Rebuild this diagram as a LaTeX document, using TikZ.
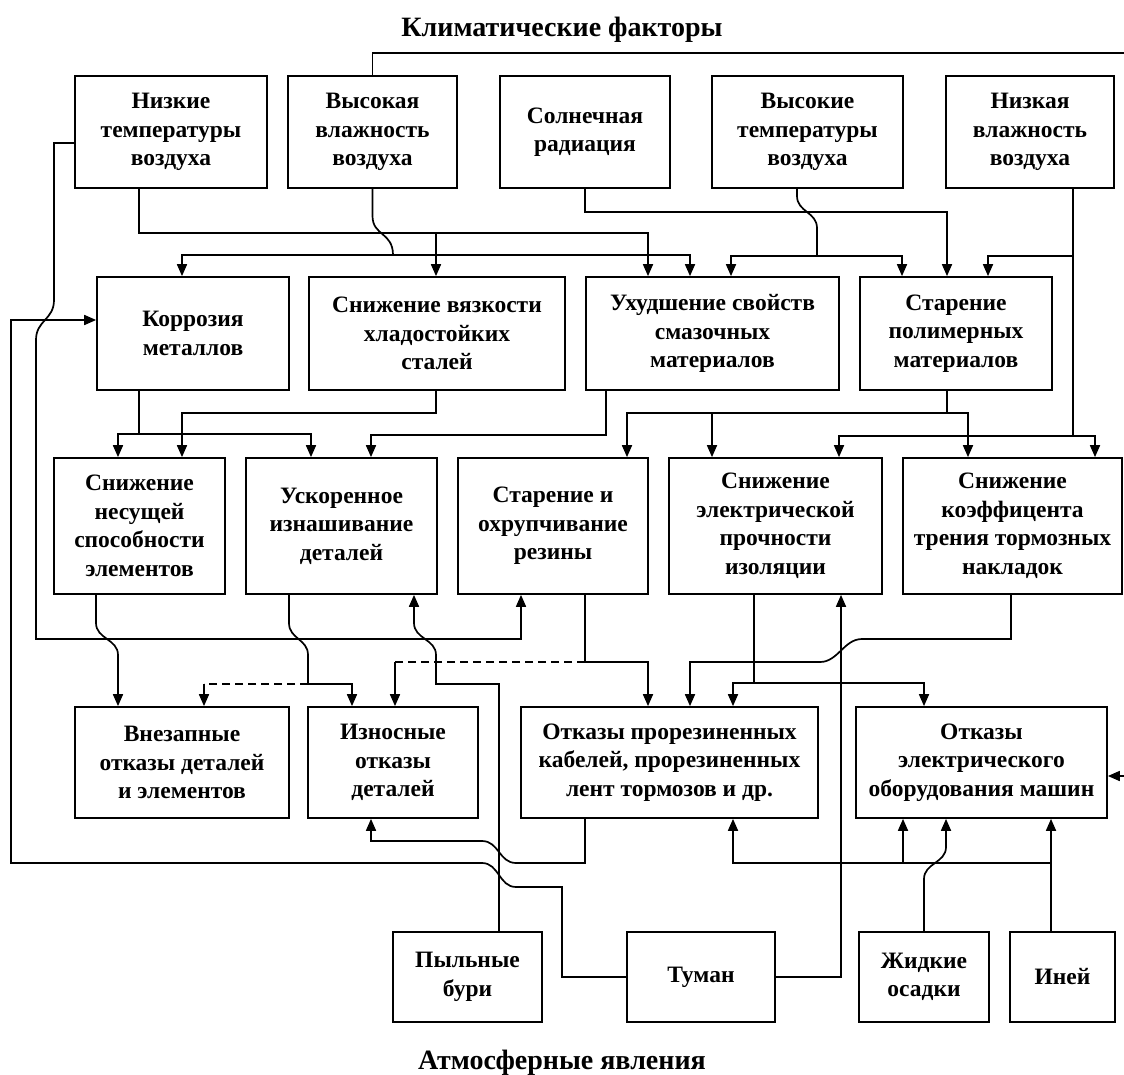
\documentclass[tikz,border=0pt]{standalone}
\usepackage{fontspec}
\setmainfont{Liberation Serif}
\usetikzlibrary{arrows.meta}
\begin{document}
\begin{tikzpicture}[x=1pt,y=-1pt,
  box/.style={draw,line width=1.7pt,inner sep=0pt,align=center,
    font=\fontsize{23.5}{28.5}\selectfont\bfseries},
  ttl/.style={inner sep=0pt,font=\fontsize{28}{30}\selectfont\bfseries},
  ln/.style={line width=1.7pt},
  arr/.style={line width=1.7pt,-{Triangle[length=12pt,width=10pt]}},
  dsh/.style={line width=1.7pt,dash pattern=on 8pt off 5pt}]
\fill[white] (0,0) rectangle (1124,1075);
\useasboundingbox (0,0) rectangle (1124,1075);

% titles
\node[ttl] (T1) at (562,30) {Климатические факторы};
\node[ttl] (T2) at (562,1063) {Атмосферные явления};

% row 1
\node[box,minimum width=192pt,minimum height=112pt] (A1) at (171,132) {Низкие\\температуры\\воздуха};
\node[box,minimum width=169pt,minimum height=112pt] (A2) at (372.5,132) {Высокая\\влажность\\воздуха};
\node[box,minimum width=170pt,minimum height=112pt] (A3) at (585,132) {Солнечная\\радиация};
\node[box,minimum width=191pt,minimum height=112pt] (A4) at (807.5,132) {Высокие\\температуры\\воздуха};
\node[box,minimum width=168pt,minimum height=112pt] (A5) at (1030,132) {Низкая\\влажность\\воздуха};

% row 2
\node[box,minimum width=192pt,minimum height=113pt] (B1) at (193,333.5) {Коррозия\\металлов};
\node[box,minimum width=256pt,minimum height=113pt] (B2) at (437,333.5) {Снижение вязкости\\хладостойких\\сталей};
\node[box,minimum width=253pt,minimum height=113pt] (B3) at (712.5,333.5) {Ухудшение свойств\\смазочных\\материалов};
\node[box,minimum width=192pt,minimum height=113pt] (B4) at (956,333.5) {Старение\\полимерных\\материалов};

% row 3
\node[box,minimum width=171pt,minimum height=136pt] (C1) at (139.5,526) {Снижение\\несущей\\способности\\элементов};
\node[box,minimum width=191pt,minimum height=136pt] (C2) at (341.5,526) {Ускоренное\\изнашивание\\деталей};
\node[box,minimum width=190pt,minimum height=136pt] (C3) at (553,526) {Старение и\\охрупчивание\\резины};
\node[box,minimum width=213pt,minimum height=136pt] (C4) at (775.5,526) {Снижение\\электрической\\прочности\\изоляции};
\node[box,minimum width=219pt,minimum height=136pt] (C5) at (1012.5,526) {Снижение\\коэффицента\\трения тормозных\\накладок};

% row 4
\node[box,minimum width=214pt,minimum height=111pt] (D1) at (182,762.5) {Внезапные\\отказы деталей\\и элементов};
\node[box,minimum width=170pt,minimum height=111pt] (D2) at (393,762.5) {Износные\\отказы\\деталей};
\node[box,minimum width=297pt,minimum height=111pt] (D3) at (669.5,762.5) {Отказы прорезиненных\\кабелей, прорезиненных\\лент тормозов и др.};
\node[box,minimum width=251pt,minimum height=111pt] (D4) at (981.5,762.5) {Отказы\\электрического\\оборудования машин};

% row 5
\node[box,minimum width=149pt,minimum height=90pt] (E1) at (467.5,977) {Пыльные\\бури};
\node[box,minimum width=148pt,minimum height=90pt] (E2) at (701,977) {Туман};
\node[box,minimum width=130pt,minimum height=90pt] (E3) at (924,977) {Жидкие\\осадки};
\node[box,minimum width=105pt,minimum height=90pt] (E4) at (1062.5,977) {Иней};

% free ends at the right edge
\coordinate (TR) at (1124,53);
\coordinate (RR) at (1124,776);

% A2 top line to the right edge, and arrow into D4 from the right edge
\draw[ln] (A2.north) -- (A2.north |- TR) -- (TR);
\draw[arr] (RR) -- (RR -| D4.east);

% A1 left: to rubber ageing
\draw[arr] (A1.west |- 0,143) -- (54,143) -- (54,300) .. controls (54,320) and (36,320) .. (36,340)
  -- (36,639) -- (521,639) -- (521,0 |- C3.south);
% A1 bottom
\draw[arr] (139,0 |- A1.south) -- (139,233) -- (648,233) -- (648,0 |- B3.north);
\draw[arr] (436,233) -- (436,0 |- B2.north);
% A2 bottom
\draw[arr] (A2.south) -- (372.5,216) .. controls (372.5,236) and (393,232) .. (393,255) -- (690,255) -- (690,0 |- B3.north);
\draw[arr] (393,255) -- (182,255) -- (182,0 |- B1.north);
% A3
\draw[arr] (A3.south) -- (585,212) -- (947,212) -- (947,0 |- B4.north);
% A4
\draw[arr] (797,0 |- A4.south) -- (797,196) .. controls (797,212) and (817,212) .. (817,228) -- (817,256) -- (902,256) -- (902,0 |- B4.north);
\draw[arr] (817,256) -- (731,256) -- (731,0 |- B3.north);
% A5
\draw[arr] (1073,0 |- A5.south) -- (1073,436) -- (1095,436) -- (1095,0 |- C5.north);
\draw[arr] (1073,436) -- (839,436) -- (839,0 |- C4.north);
\draw[arr] (1073,256) -- (988,256) -- (988,0 |- B4.north);

% B1
\draw[arr] (139,0 |- B1.south) -- (139,434) -- (118,434) -- (118,0 |- C1.north);
\draw[arr] (139,434) -- (311,434) -- (311,0 |- C2.north);
% B2
\draw[arr] (436,0 |- B2.south) -- (436,413) -- (182,413) -- (182,0 |- C1.north);
% B3
\draw[arr] (606,0 |- B3.south) -- (606,435) -- (371,435) -- (371,0 |- C2.north);
% B4
\draw[arr] (947,0 |- B4.south) -- (947,413) -- (627,413) -- (627,0 |- C3.north);
\draw[arr] (712,413) -- (712,0 |- C4.north);
\draw[arr] (947,413) -- (968,413) -- (968,0 |- C5.north);

% C1
\draw[arr] (96,0 |- C1.south) -- (96,623) .. controls (96,639) and (118,639) .. (118,655) -- (118,0 |- D1.north);
% C2
\draw[arr] (289,0 |- C2.south) -- (289,623) .. controls (289,639) and (308,639) .. (308,655) -- (308,684) -- (352,684) -- (352,0 |- D2.north);
\draw[dsh] (308,684) -- (204,684);
\draw[arr] (204,684) -- (204,0 |- D1.north);
% E1 (dust storms) to C2
\draw[arr] (499,0 |- E1.north) -- (499,684) -- (436,684) -- (436,655) .. controls (436,639) and (414,639) .. (414,623) -- (414,0 |- C2.south);
% C3
\draw[arr] (585,0 |- C3.south) -- (585,662) -- (648,662) -- (648,0 |- D3.north);
\draw[dsh] (585,662) -- (395,662);
\draw[arr] (395,662) -- (395,0 |- D2.north);
% C4
\draw[arr] (754,0 |- C4.south) -- (754,683) -- (733,683) -- (733,0 |- D3.north);
\draw[arr] (754,683) -- (924,683) -- (924,0 |- D4.north);
% C5
\draw[arr] (1011,0 |- C5.south) -- (1011,639) -- (862,639) .. controls (844,639) and (838,662) .. (820,662) -- (690,662) -- (690,0 |- D3.north);

% E2 (fog)
\draw[arr] (E2.east) -- (841,0 |- E2.east) -- (841,0 |- C4.south);
\draw[arr] (E2.west) -- (562,0 |- E2.west) -- (562,887) -- (516,887) .. controls (499,887) and (499,863) .. (482,863)
  -- (11,863) -- (11,320) -- (B1.west |- 0,320);
% D3 to D2
\draw[arr] (585,0 |- D3.south) -- (585,863) -- (516,863) .. controls (499,863) and (499,841) .. (482,841) -- (371,841) -- (371,0 |- D2.south);
% E3
\draw[arr] (E3.north) -- (924,879) .. controls (924,863) and (946,863) .. (946,847) -- (946,0 |- D4.south);
% E4
\draw[arr] (1051,0 |- E4.north) -- (1051,0 |- D4.south);
\draw[arr] (1051,863) -- (733,863) -- (733,0 |- D3.south);
\draw[arr] (903,863) -- (903,0 |- D4.south);
\end{tikzpicture}
\end{document}
